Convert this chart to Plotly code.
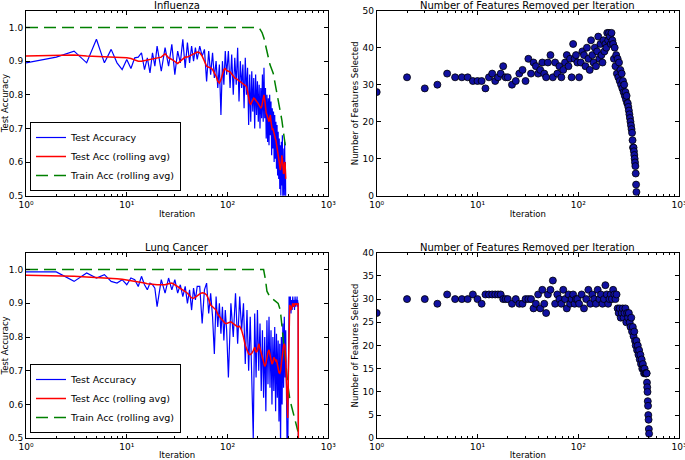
import plotly.graph_objects as go

# ---------------- Influenza ----------------
flu_iter = [1, 2, 3, 4, 5, 6, 7, 8, 9, 10, 11, 12, 13, 14, 15, 16, 17, 18, 19, 20,
            22, 24, 26, 28, 30, 32, 34, 36, 38, 40, 42, 44, 46, 48, 50,
            53, 56, 59, 62, 65, 68, 71, 74, 77, 80, 83, 86, 89, 92, 95, 98,
            102, 106, 110, 114, 118, 122, 126, 130, 134, 138, 142, 146, 150, 154, 158, 162,
            166, 170, 174, 178, 182, 186, 190, 194, 198, 202, 206, 210, 214, 218, 222, 226,
            230, 234, 238, 242, 246, 250, 254, 258, 262, 266, 270, 274, 278, 282, 286, 290,
            294, 298, 302, 306, 310, 314, 318, 322, 326, 330, 334, 338, 342, 346, 350, 354,
            357, 360, 363, 366, 369, 372, 375, 378]

flu_test = [0.895, 0.912, 0.93, 0.895, 0.965, 0.895, 0.935, 0.895, 0.875, 0.905,
            0.878, 0.91, 0.912, 0.925, 0.875, 0.91, 0.865, 0.925, 0.885, 0.945,
            0.87, 0.94, 0.885, 0.95, 0.86, 0.93, 0.895, 0.965, 0.88, 0.955, 0.895, 0.945, 0.9, 0.94, 0.905,
            0.945, 0.915, 0.935, 0.84, 0.93, 0.86, 0.925, 0.85, 0.9, 0.82, 0.89, 0.74, 0.9, 0.83, 0.93, 0.86,
            0.93, 0.82, 0.92, 0.80, 0.91, 0.83, 0.94, 0.78, 0.90, 0.82,
            0.89, 0.76, 0.91, 0.80, 0.88, 0.71, 0.86, 0.72, 0.87, 0.75,
            0.85, 0.70, 0.86, 0.74, 0.84, 0.72, 0.83, 0.70, 0.82, 0.73,
            0.86, 0.72, 0.88, 0.73, 0.82, 0.67, 0.80, 0.66, 0.79, 0.65,
            0.80, 0.68, 0.78, 0.62, 0.76, 0.64, 0.75, 0.60, 0.74, 0.61,
            0.72, 0.58, 0.71, 0.56, 0.69, 0.55, 0.67, 0.52, 0.65, 0.50,
            0.66, 0.53, 0.68, 0.48,
            0.62, 0.49, 0.64, 0.50, 0.66, 0.52, 0.60, 0.48]

flu_roll = [0.915, 0.918, 0.918, 0.915, 0.914, 0.912, 0.912, 0.911, 0.91, 0.91,
            0.908, 0.903, 0.9, 0.9, 0.902, 0.905, 0.905, 0.907, 0.908, 0.91,
            0.912, 0.922, 0.91, 0.905, 0.898, 0.893, 0.9, 0.905, 0.912, 0.912, 0.915, 0.918, 0.92, 0.924, 0.927,
            0.925, 0.915, 0.9, 0.885, 0.882, 0.88, 0.875, 0.865, 0.855, 0.84, 0.835, 0.845, 0.86, 0.875, 0.878, 0.872,
            0.87, 0.868, 0.862, 0.855, 0.85, 0.848, 0.845, 0.84, 0.838, 0.835,
            0.832, 0.83, 0.828, 0.825, 0.81, 0.785, 0.775, 0.772, 0.778, 0.785,
            0.79, 0.788, 0.782, 0.78, 0.778, 0.772, 0.768, 0.765, 0.76, 0.765,
            0.775, 0.79, 0.80, 0.785, 0.76, 0.745, 0.74, 0.735, 0.725, 0.72,
            0.73, 0.74, 0.72, 0.70, 0.695, 0.70, 0.69, 0.68, 0.676, 0.67,
            0.665, 0.655, 0.645, 0.635, 0.625, 0.615, 0.6, 0.585, 0.576, 0.585,
            0.605, 0.62, 0.61, 0.58,
            0.568, 0.565, 0.57, 0.585, 0.60, 0.598, 0.575, 0.55]

flu_train_iter = [1, 100, 200, 210, 220, 230, 245, 264, 284, 302, 321, 346, 366, 378]
flu_train = [1.0, 1.0, 1.0, 0.995, 0.985, 0.968, 0.934, 0.889, 0.864, 0.824, 0.785, 0.725, 0.67, 0.64]

flu_sel = [28, 32, 29, 30, 33, 32, 32, 32, 31, 31, 31, 29, 32, 33, 31, 32, 33, 35, 32, 32,
           30, 31, 33, 34, 31, 37, 33, 36, 35, 33, 34, 36, 33, 32, 36,
           38, 32, 36, 33, 35, 32, 34, 36, 38, 35, 37, 32, 41, 37, 38, 36,
           32, 36, 39, 38, 35, 40, 37, 34, 42, 38, 36, 40, 35, 39, 43, 37,
           41, 38, 36, 42, 39, 41, 40, 44, 42, 44, 43, 41, 44, 42, 41, 37,
           40, 35, 38, 33, 37, 32, 36, 31, 34, 30, 33, 29, 31, 28, 30, 27,
           28, 26, 27, 25, 25, 24, 23, 22, 21, 20, 19, 18, 17, 15, 13, 13,
           12, 11, 10, 9, 8, 6, 3, 1]

# ---------------- Lung Cancer ----------------
lung_iter = [1, 2, 3, 4, 5, 6, 7, 8, 9, 10, 11, 12, 13, 14, 15, 16, 17, 18, 19, 20,
             22, 24, 26, 28, 30, 32, 34, 36, 38, 40, 42, 44, 46, 48, 50,
             53, 56, 59, 62, 65, 68, 71, 74, 77, 80, 83, 86, 89, 92, 95, 98,
             102, 108, 114, 120, 126, 132, 138, 144, 150, 156, 162, 168, 174, 180, 186, 192,
             198, 204, 210, 216, 222, 228, 234, 240, 246, 252, 258, 264, 270, 276, 282, 288,
             294, 300, 306, 312, 318, 324, 330, 336, 342, 348, 354, 360, 366, 372, 378, 384,
             390, 396, 402, 408, 414, 420, 426, 432, 438, 444, 450, 456, 462, 468, 474,
             478, 481, 484, 487, 490, 493, 496, 499, 502, 505]

lung_test = [0.993, 0.993, 0.965, 0.99, 0.975, 0.985, 0.965, 0.96, 0.97, 0.955,
             0.975, 0.97, 0.95, 0.98, 0.955, 0.94, 0.96, 0.955, 0.945, 0.89,
             0.97, 0.93, 0.975, 0.94, 0.97, 0.93, 0.955, 0.92, 0.95, 0.90, 0.94, 0.88, 0.945, 0.91, 0.95,
             0.95, 0.84, 0.94, 0.96, 0.87, 0.93, 0.86, 0.75, 0.92, 0.83, 0.90, 0.81, 0.89, 0.79, 0.88, 0.82,
             0.68, 0.90, 0.80, 0.93, 0.78, 0.92, 0.82, 0.90, 0.72, 0.88,
             0.70, 0.86, 0.66, 0.50, 0.87, 0.68, 0.88, 0.70, 0.84, 0.64,
             0.82, 0.62, 0.80, 0.58, 0.85, 0.66, 0.86, 0.65, 0.82, 0.60,
             0.80, 0.64, 0.83, 0.58, 0.81, 0.62, 0.79, 0.55, 0.78, 0.48,
             0.80, 0.60, 0.84, 0.65, 0.86, 0.68, 0.82, 0.55, 0.48, 0.45,
             0.70, 0.92, 0.88, 0.92, 0.87, 0.91, 0.88, 0.92, 0.89, 0.91,
             0.88, 0.92, 0.89,
             0.91, 0.89, 0.91, 0.90, 0.92, 0.89, 0.91, 0.90, 0.90, 0.40]

lung_roll = [0.983, 0.982, 0.98, 0.978, 0.977, 0.976, 0.975, 0.973, 0.971, 0.969,
             0.968, 0.966, 0.964, 0.962, 0.96, 0.958, 0.957, 0.956, 0.955, 0.955,
             0.955, 0.955, 0.958, 0.96, 0.955, 0.95, 0.945, 0.94, 0.935, 0.93, 0.922, 0.916, 0.915, 0.918, 0.922,
             0.928, 0.931, 0.93, 0.925, 0.912, 0.895, 0.89, 0.885, 0.88, 0.868, 0.86, 0.855, 0.85, 0.845, 0.84, 0.84,
             0.842, 0.845, 0.84, 0.835, 0.83, 0.832, 0.82, 0.80, 0.775, 0.762,
             0.75, 0.748, 0.752, 0.76, 0.77, 0.755, 0.76, 0.78, 0.765, 0.75,
             0.74, 0.725, 0.713, 0.72, 0.74, 0.755, 0.762, 0.75, 0.73, 0.72,
             0.725, 0.74, 0.735, 0.73, 0.733, 0.72, 0.705, 0.695, 0.693, 0.70,
             0.72, 0.745, 0.76, 0.775, 0.78, 0.772, 0.73, 0.66, 0.58, 0.56,
             0.70, 0.88, 0.895, 0.89, 0.88, 0.885, 0.895, 0.9, 0.895, 0.89,
             0.895, 0.9, 0.895,
             0.897, 0.9, 0.896, 0.9, 0.898, 0.9, 0.897, 0.9, 0.898, 0.40]

lung_train_iter = [1, 100, 228, 238, 246, 262, 285, 318, 334, 344, 360, 372, 386, 400, 416, 440, 466, 484, 500]
lung_train = [1.0, 1.0, 1.0, 0.97, 0.936, 0.92, 0.91, 0.90, 0.88, 0.84, 0.79, 0.75, 0.70, 0.65, 0.614, 0.585, 0.554, 0.535, 0.52]

lung_sel = [27, 30, 30, 29, 31, 30, 30, 30, 31, 30, 29, 31, 31, 31, 31, 31, 31, 30, 30, 30,
            29, 30, 29, 29, 30, 30, 30, 28, 29, 31, 28, 32, 29, 27, 31,
            32, 34, 29, 31, 30, 29, 32, 30, 28, 31, 29, 30, 31, 29, 30, 30,
            29, 31, 28, 30, 32, 29, 31, 30, 29, 32, 30, 31, 29, 30, 33, 31,
            29, 30, 31, 30, 32, 31, 30, 31, 28, 27, 28, 26, 27, 28, 26, 27,
            28, 25, 27, 26, 27, 25, 24, 26, 23, 24, 22, 23, 21, 20, 21, 19,
            20, 18, 19, 17, 18, 16, 17, 15, 16, 15, 14, 15, 14, 14, 14,
            14, 12, 11, 10, 8, 7, 5, 4, 2, 1]

x_tick_vals = [1, 10, 100, 1000]
x_tick_text = ["10⁰", "10¹", "10²", "10³"]

# ---------------- Figure ----------------
FONT = "DejaVu Sans"
BLUE, RED, GREEN = "#0000ff", "#ff0000", "#008000"

fig = go.Figure()

def acc_traces(it, test, roll, tit, train, xa, ya, leg):
    fig.add_trace(go.Scatter(x=it, y=test, mode="lines", name="Test Accuracy",
                             line=dict(color=BLUE, width=1.2), xaxis=xa, yaxis=ya,
                             legend=leg, legendrank=1))
    fig.add_trace(go.Scatter(x=tit, y=train, mode="lines", name="Train Acc (rolling avg)",
                             line=dict(color=GREEN, width=1.5, dash="12px,6px"),
                             xaxis=xa, yaxis=ya, legend=leg, legendrank=3))
    fig.add_trace(go.Scatter(x=it, y=roll, mode="lines", name="Test Acc (rolling avg)",
                             line=dict(color=RED, width=1.5), xaxis=xa, yaxis=ya, legend=leg,
                             legendrank=2))

def sel_trace(it, sel, xa, ya):
    fig.add_trace(go.Scatter(x=it, y=sel, mode="markers", showlegend=False,
                             marker=dict(size=7, color="#1010a0", line=dict(color="black", width=0.8)),
                             xaxis=xa, yaxis=ya))

acc_traces(flu_iter, flu_test, flu_roll, flu_train_iter, flu_train, "x", "y", "legend")
sel_trace(flu_iter, flu_sel, "x2", "y2")
acc_traces(lung_iter, lung_test, lung_roll, lung_train_iter, lung_train, "x3", "y3", "legend2")
sel_trace(lung_iter, lung_sel, "x4", "y4")

W, H = 685, 460
dom_xl = [26 / W, 328.3 / W]
dom_xr = [376.7 / W, 679 / W]
dom_yt = [1 - 195.7 / H, 1 - 10.7 / H]
dom_yb = [1 - 438.3 / H, 1 - 252.7 / H]

minor_vals = [m * d for d in (1, 10, 100) for m in range(2, 10)]

def xaxis(dom, anchor):
    return dict(type="log", range=[0, 3], domain=dom, anchor=anchor, automargin=False,
                tickvals=x_tick_vals, ticktext=x_tick_text, ticklabeloverflow="allow",
                ticks="inside", ticklen=4, tickcolor="black", tickwidth=1,
                minor=dict(tickvals=minor_vals, ticks="inside", ticklen=2, tickcolor="black", tickwidth=1),
                showline=True, linecolor="black", linewidth=1, mirror="allticks",
                showgrid=False, zeroline=False,
                tickfont=dict(family=FONT, size=9, color="black"),
                title=dict(text="Iteration", font=dict(family=FONT, size=8.5, color="black"), standoff=2))

def yaxis(dom, anchor, rng, dtick, fmt, title):
    return dict(range=rng, domain=dom, anchor=anchor, dtick=dtick, tick0=0, tickformat=fmt,
                automargin=False, ticklabeloverflow="allow",
                ticks="inside", ticklen=4, tickcolor="black", tickwidth=1,
                showline=True, linecolor="black", linewidth=1, mirror="allticks",
                showgrid=False, zeroline=False,
                tickfont=dict(family=FONT, size=9, color="black"),
                title=dict(text=title, font=dict(family=FONT, size=8.5, color="black"), standoff=2))

legend_common = dict(xanchor="left", yanchor="bottom", bordercolor="black", borderwidth=1,
                     bgcolor="white", font=dict(family=FONT, size=9.5, color="black"),
                     tracegroupgap=0, itemwidth=30)

fig.update_layout(
    width=W, height=H, margin=dict(l=0, r=0, t=0, b=0, autoexpand=False),
    paper_bgcolor="white", plot_bgcolor="white",
    font=dict(family=FONT, color="black"),
    xaxis=xaxis(dom_xl, "y"),
    yaxis=yaxis(dom_yt, "x", [0.5, 1.05], 0.1, ".1f", "Test Accuracy"),
    xaxis2=xaxis(dom_xr, "y2"),
    yaxis2=yaxis(dom_yt, "x2", [0, 50], 10, "d", "Number of Features Selected"),
    xaxis3=xaxis(dom_xl, "y3"),
    yaxis3=yaxis(dom_yb, "x3", [0.5, 1.05], 0.1, ".1f", "Test Accuracy"),
    xaxis4=xaxis(dom_xr, "y4"),
    yaxis4=yaxis(dom_yb, "x4", [0, 40], 5, "d", "Number of Features Selected"),
    legend=dict(x=30 / W, y=1 - 191 / H, **legend_common),
    legend2=dict(x=30 / W, y=1 - 433 / H, **legend_common),
    showlegend=True,
)

titles = [("Influenza", dom_xl, dom_yt), ("Number of Features Removed per Iteration", dom_xr, dom_yt),
          ("Lung Cancer", dom_xl, dom_yb), ("Number of Features Removed per Iteration", dom_xr, dom_yb)]
for text, dx, dy in titles:
    fig.add_annotation(text=text, x=(dx[0] + dx[1]) / 2, y=dy[1], xref="paper", yref="paper",
                       xanchor="center", yanchor="bottom", showarrow=False, yshift=-2,
                       font=dict(family=FONT, size=10, color="black"))

fig.write_html("out.html", config={"displayModeBar": False},
               post_script="document.body.style.margin='0px';")
